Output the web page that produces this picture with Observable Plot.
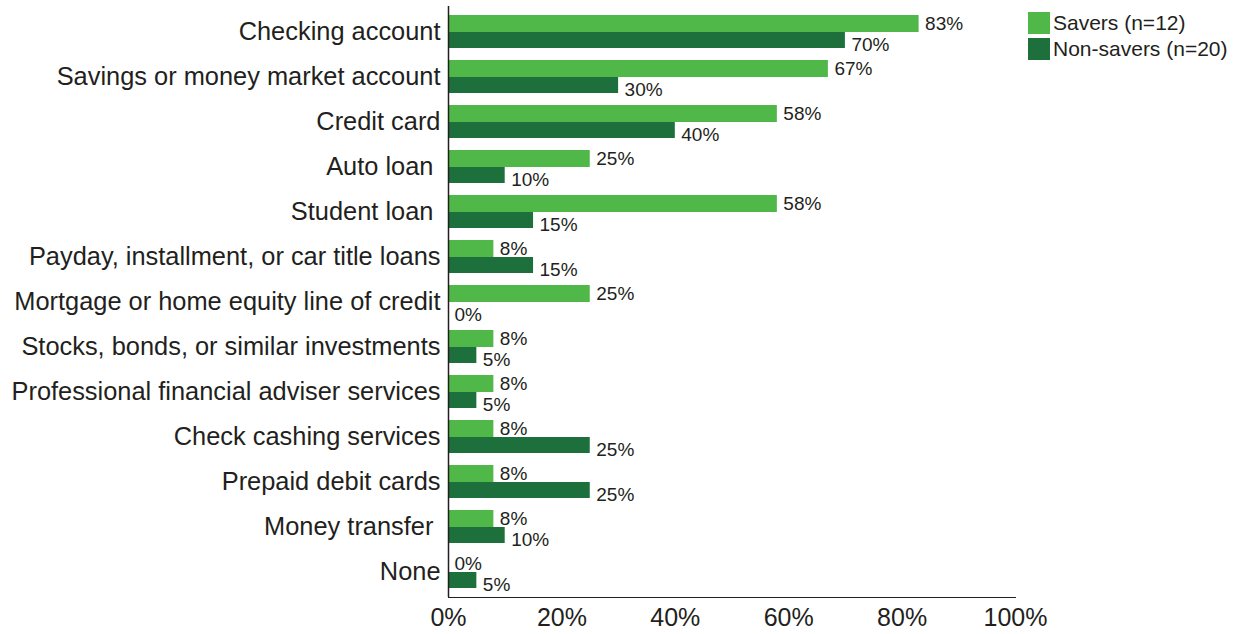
<!DOCTYPE html>
<html>
<head>
<meta charset="utf-8">
<script src="https://cdn.jsdelivr.net/npm/d3@7"></script>
<script src="https://cdn.jsdelivr.net/npm/@observablehq/plot@0.6"></script>
<style>
  body { margin: 0; background: #fff; }
  #wrap { position: relative; width: 1233px; height: 634px; font-family: "Liberation Sans", Arial, sans-serif; color: #231f20; }
  #legend { position: absolute; left: 1028px; top: 10px; font-size: 21px; line-height: 26px; }
  #legend .row { display: flex; align-items: center; height: 26px; }
  #legend .sw { width: 22px; height: 22px; margin-right: 3px; }
</style>
</head>
<body>
<div id="wrap">
  <div id="chart"></div>
  <div id="legend"></div>
</div>
<script>
const categories = [
  "Checking account",
  "Savings or money market account",
  "Credit card",
  "Auto loan",
  "Student loan",
  "Payday, installment, or car title loans",
  "Mortgage or home equity line of credit",
  "Stocks, bonds, or similar investments",
  "Professional financial adviser services",
  "Check cashing services",
  "Prepaid debit cards",
  "Money transfer",
  "None"
];
const trailingSpace = ["Auto loan", "Student loan", "Money transfer"];
const saversValues =    [83, 67, 58, 25, 58, 8, 25, 8, 8, 8, 8, 8, 0];
const nonSaversValues = [70, 30, 40, 10, 15, 15, 0, 5, 5, 25, 25, 10, 5];
const seriesNames = ["Savers (n=12)", "Non-savers (n=20)"];
const seriesColors = ["#50b848", "#1d6f3b"];
const xTicks = [0, 20, 40, 60, 80, 100];

const savers = categories.map((c, i) => ({category: c, value: saversValues[i]}));
const nonSavers = categories.map((c, i) => ({category: c, value: nonSaversValues[i]}));

const chart = Plot.plot({
  width: 1233,
  height: 634,
  marginLeft: 448,
  marginRight: 218,
  marginTop: 6,
  marginBottom: 37,
  style: {fontFamily: '"Liberation Sans", Arial, sans-serif', fontSize: "25px", color: "#231f20", background: "#fff"},
  x: {domain: [0, 100], ticks: xTicks, tickFormat: d => d + "%", tickSize: 0, tickPadding: 11, line: true, label: null},
  y: {domain: categories, paddingInner: 0.273, paddingOuter: 0.134, tickSize: 0, tickPadding: 8, label: null,
      tickFormat: d => trailingSpace.includes(d) ? d + "\u00a0" : d},
  marks: [
    Plot.axisY({tickSize: 0, tickPadding: 8, fontSize: 25.4, label: null,
      tickFormat: d => trailingSpace.includes(d) ? d + "\u00a0" : d}),
    Plot.barX(savers, {x: "value", y: "category", fill: seriesColors[0], insetBottom: 16}),
    Plot.barX(nonSavers, {x: "value", y: "category", fill: seriesColors[1], insetTop: 17}),
    Plot.text(savers, {x: "value", y: "category", text: d => d.value + "%", textAnchor: "start", dx: 6, dy: -8, fontSize: 19, fill: "#231f20"}),
    Plot.text(nonSavers, {x: "value", y: "category", text: d => d.value + "%", textAnchor: "start", dx: 6, dy: 12.5, fontSize: 19, fill: "#231f20"}),
    Plot.ruleX([0], {stroke: "#231f20", strokeWidth: 1.5})
  ]
});
document.getElementById("chart").appendChild(chart);

const legend = d3.select("#legend");
seriesNames.forEach((name, i) => {
  const row = legend.append("div").attr("class", "row");
  row.append("div").attr("class", "sw").style("background", seriesColors[i]);
  row.append("span").text(name);
});
</script>
</body>
</html>
